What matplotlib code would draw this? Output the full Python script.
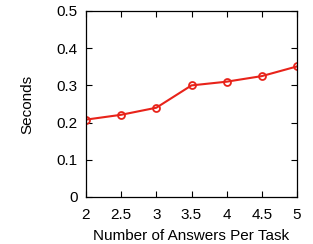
import matplotlib
matplotlib.use("Agg")
import matplotlib.pyplot as plt

answers = [2, 2.5, 3, 3.5, 4, 4.5, 5]
seconds = [0.208, 0.221, 0.240, 0.300, 0.310, 0.325, 0.351]
xticks = [2, 2.5, 3, 3.5, 4, 4.5, 5]
xticklabels = ["2", "2.5", "3", "3.5", "4", "4.5", "5"]
yticks = [0, 0.1, 0.2, 0.3, 0.4, 0.5]
yticklabels = ["0", "0.1", "0.2", "0.3", "0.4", "0.5"]

plt.rcParams['font.family'] = ['Liberation Sans', 'DejaVu Sans']
fig = plt.figure(figsize=(3.13, 2.44), dpi=100)
ax = fig.add_axes([86/313, 1-197/244, (297-86)/313, (197-11)/244])
ax.plot(answers, seconds, color='#e8231a', linewidth=1.5, marker='o',
        markersize=5, markerfacecolor='none', markeredgewidth=1.3)
ax.set_xlim(2, 5)
ax.set_ylim(0, 0.5)
ax.set_xticks(xticks)
ax.set_xticklabels(xticklabels)
ax.set_yticks(yticks)
ax.set_yticklabels(yticklabels)
ax.tick_params(axis='x', direction='in', top=True, length=4, width=0.8,
               labelsize=11, pad=8)
ax.tick_params(axis='y', direction='in', right=True, length=4, width=0.8,
               labelsize=11, pad=6)
for s in ax.spines.values():
    s.set_linewidth(0.9)
ax.set_xlabel("Number of Answers Per Task", fontsize=11, labelpad=5)
ax.set_ylabel("Seconds", fontsize=11, labelpad=16)
fig.savefig("out.png", dpi=100)
